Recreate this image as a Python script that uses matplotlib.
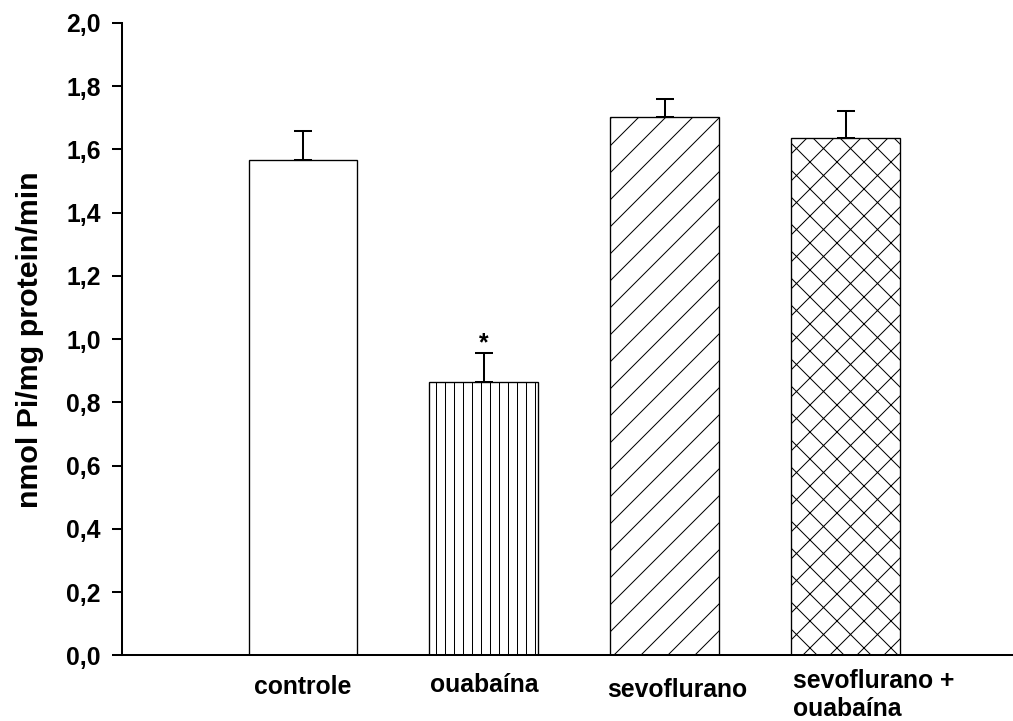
import matplotlib
matplotlib.use("Agg")
import matplotlib.pyplot as plt

plt.rcParams['font.family'] = ['Liberation Sans', 'DejaVu Sans']
plt.rcParams['font.weight'] = 'bold'
plt.rcParams['hatch.linewidth'] = 0.45
plt.rcParams['hatch.color'] = 'black'

groups = ["controle", "ouabaína", "sevoflurano", "sevoflurano +\nouabaína"]
means = [1.567, 0.866, 1.702, 1.635]
sem = [0.090, 0.090, 0.058, 0.088]
hatches = ["", "|||", "//", "xx"]
yticks = [0.0, 0.2, 0.4, 0.6, 0.8, 1.0, 1.2, 1.4, 1.6, 1.8, 2.0]

# hatch spacing follows the dpi, so the figure is built at 162 dpi
dpi = 162
fig = plt.figure(figsize=(1013 / dpi, 721 / dpi), dpi=dpi)
ax = fig.add_axes([0.1204, 0.0909, 0.8786, 0.8772])

pos = [1, 2, 3, 4]
ax.bar(pos, means, width=0.6, color="white", edgecolor="black",
       linewidth=0.6, hatch=hatches, zorder=2)
ax.errorbar(pos, means, yerr=[[0] * 4, sem], fmt="none", ecolor="black",
            elinewidth=0.9, capsize=4.2, capthick=0.9, zorder=3)

# significance mark over ouabaina
ax.annotate("*", xy=(2, means[1] + sem[1]), xytext=(0, -1),
            textcoords="offset points", ha="center", va="bottom",
            fontsize=11, fontweight="bold")

ax.set_xlim(0, 4.92)
ax.set_ylim(0, 2.0)
ax.set_yticks(yticks)
ax.set_yticklabels([f"{v:.1f}".replace(".", ",") for v in yticks])
ax.set_xticks([])
ax.tick_params(axis="y", direction="out", length=4.4, width=0.9, pad=5,
               labelsize=11)
for side in ["top", "right"]:
    ax.spines[side].set_visible(False)
for side in ["left", "bottom"]:
    ax.spines[side].set_linewidth(0.9)

# category labels under the bars
label_x = [1.0, 2.0, 3.07, 3.707]
label_y = [-0.050, -0.047, -0.0545, -0.063]
label_ha = ["center", "center", "center", "left"]
for lab, lx, ly, ha in zip(groups, label_x, label_y, label_ha):
    ax.text(lx, ly, lab, transform=ax.get_xaxis_transform(), ha=ha,
            va="center", fontsize=11, fontweight="bold", linespacing=1.2)

ax.set_ylabel("nmol Pi/mg protein/min", fontsize=13.5, fontweight="bold",
              labelpad=10)

fig.savefig("out.png", dpi=dpi)
